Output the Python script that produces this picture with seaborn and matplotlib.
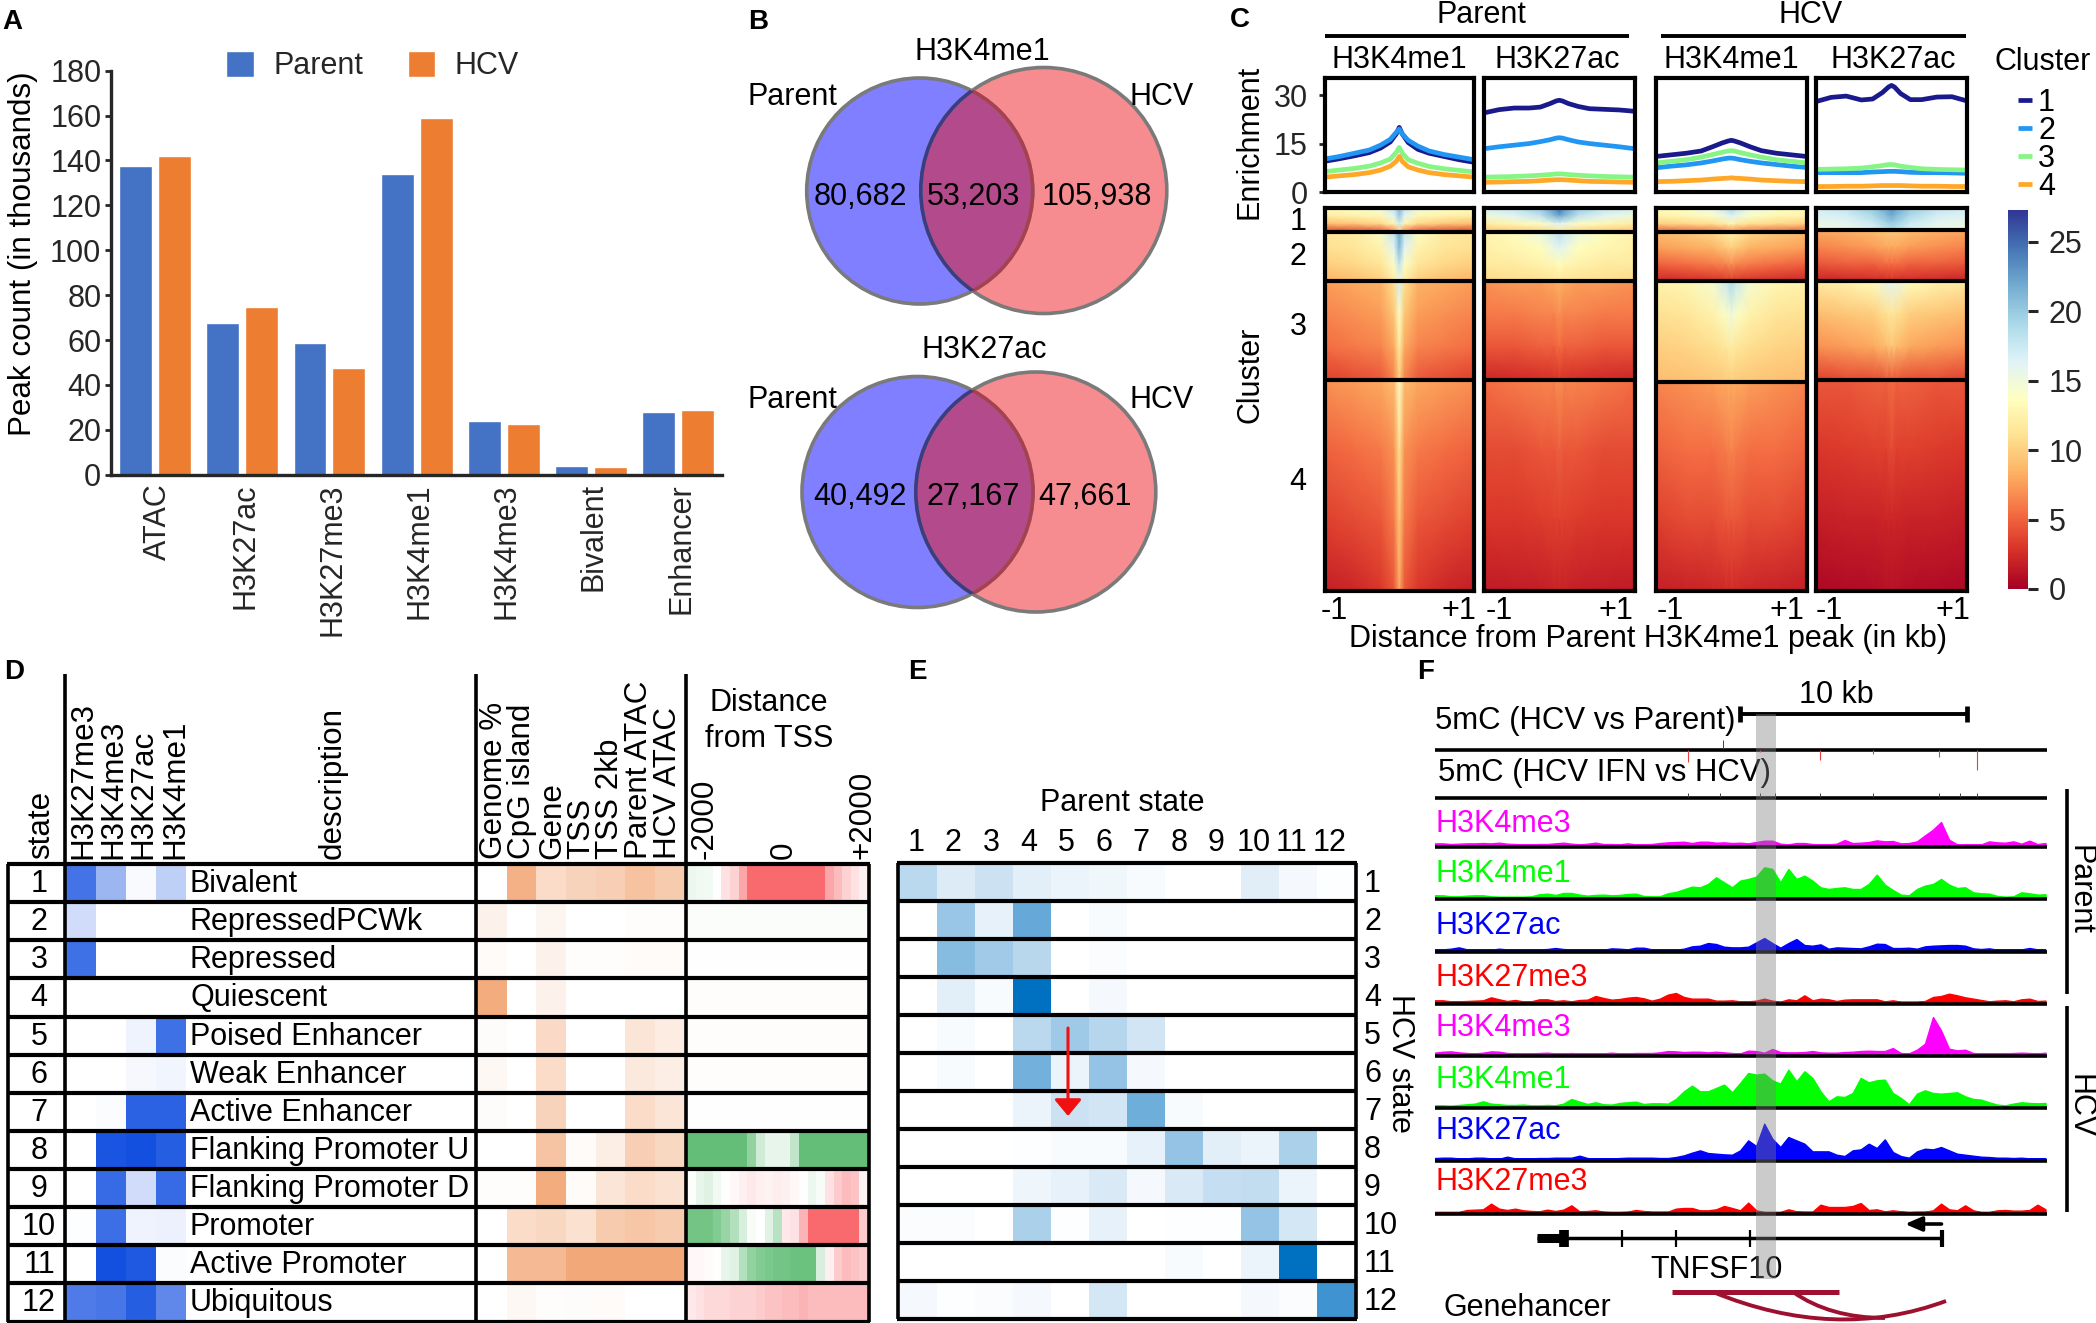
import numpy as np
import pandas as pd
import matplotlib
matplotlib.use("Agg")
import matplotlib.pyplot as plt
from matplotlib.colors import LinearSegmentedColormap, Normalize
from matplotlib.cm import ScalarMappable
from matplotlib.patches import Circle, PathPatch, Rectangle
from matplotlib.path import Path
from matplotlib.transforms import ScaledTranslation
import seaborn as sns

# ---------- Panel A ----------
a_categories = ["ATAC", "H3K27ac", "H3K27me3", "H3K4me1", "H3K4me3", "Bivalent", "Enhancer"]
a_parent = [137.5, 67.5, 58.5, 134, 24, 4, 28]
a_hcv = [142, 74.7, 47.5, 159, 22.5, 3.5, 29]

# ---------- Panel B ----------
b_top_labels = ["80,682", "53,203", "105,938"]
b_bottom_labels = ["40,492", "27,167", "47,661"]

# ---------- Panel C profiles ----------
c_x = [-1, -.8, -.6, -.4, -.25, -.12, -.04, 0, .04, .12, .25, .4, .6, .8, 1]
prof_p_k4 = [
    [9.5, 10.3, 11.2, 12.2, 13.6, 15.5, 18, 20, 18, 15.3, 13.2, 12, 11, 10, 9.2],
    [10.2, 11, 12, 13, 14.5, 16.3, 18.5, 19.5, 18, 16, 14.2, 12.7, 11.6, 10.8, 10],
    [6.3, 6.8, 7.3, 8, 9, 10.2, 12.3, 13.8, 12, 10, 8.9, 7.9, 7.2, 6.7, 6.2],
    [4.6, 5, 5.4, 6, 6.8, 8, 9.5, 11, 9.5, 7.8, 6.8, 6, 5.4, 5, 4.6]]
prof_p_ac = [
    [24.5, 25.5, 26, 26, 26.3, 27.4, 28.2, 28.4, 28.2, 27.4, 26.5, 25.8, 25.6, 25.4, 25],
    [13.4, 14, 14.5, 15, 15.6, 16.2, 16.7, 16.8, 16.7, 16.2, 15.5, 15, 14.5, 14, 13.4],
    [4.6, 4.7, 4.8, 5, 5.2, 5.4, 5.6, 5.6, 5.6, 5.4, 5.2, 5, 4.8, 4.7, 4.6],
    [3, 3.1, 3.2, 3.3, 3.5, 3.7, 3.8, 3.8, 3.8, 3.7, 3.5, 3.3, 3.2, 3.1, 3]]
prof_h_k4 = [
    [11, 11.5, 12, 12.7, 14, 15.2, 15.8, 16, 15.8, 15.2, 14, 12.8, 12, 11.5, 11],
    [7.5, 8, 8.4, 9, 9.6, 10.2, 10.5, 10.5, 10.4, 10, 9.5, 9, 8.5, 8, 7.6],
    [9, 9.5, 10, 10.8, 11.6, 12.3, 12.7, 12.8, 12.7, 12.2, 11.5, 10.8, 10, 9.5, 9],
    [3.2, 3.3, 3.5, 3.7, 4, 4.2, 4.3, 4.4, 4.3, 4.2, 4, 3.7, 3.5, 3.3, 3.2]]
prof_h_ac = [
    [28, 29.3, 29.7, 28.5, 28.8, 30.8, 32.5, 33, 32.5, 30.5, 28.6, 28.6, 29.4, 29.5, 28.2],
    [6, 6, 6, 6, 6.2, 6.3, 6.4, 6.4, 6.4, 6.3, 6.1, 6, 6, 5.9, 5.8],
    [7, 7.1, 7.2, 7.4, 7.8, 8.2, 8.5, 8.5, 8.4, 8, 7.6, 7.2, 7, 6.9, 6.8],
    [1.7, 1.7, 1.8, 1.8, 1.9, 2, 2, 2, 2, 2, 1.9, 1.8, 1.8, 1.7, 1.7]]

# ---------- Panel C heatmaps: half rows read edge -> centre, top -> bottom ----------
heat_p_k4 = [
    [[13.5, 14, 15, 18, 21], [12, 12.5, 13, 16, 20], [9, 9.5, 10.5, 13, 17], [3, 3.5, 4, 6, 10]],
    [[11.5, 12, 14, 18, 22], [11, 11.5, 12.5, 16, 21], [10, 10.5, 11.5, 14, 18], [8.5, 9, 10, 12, 15]],
    [[7.5, 8, 8.5, 11, 17], [6.5, 7, 7.5, 9.5, 14], [5.5, 6, 6.5, 8, 12], [3.5, 4, 4.5, 6.5, 10]],
    [[7, 7.5, 8, 9, 14], [5, 5.5, 6, 7, 11], [3.5, 4, 4.5, 6, 9.5], [1.8, 2.2, 3, 4.5, 8]]]
heat_p_ac = [
    [[17, 18, 20, 23, 25], [15, 16, 18, 21, 22], [12, 13, 14, 15.5, 16], [9, 9.5, 10, 11, 12]],
    [[12.5, 13.5, 15.5, 17.5, 18.5], [12.3, 12.8, 13.5, 15.5, 16], [11.8, 12, 12.5, 13, 13.5], [10.5, 10.8, 11, 11.3, 11.5]],
    [[7, 7.5, 7.5, 8, 8.5], [6, 6, 6.5, 6.5, 7], [4.5, 4.5, 5, 5, 5.5], [2.2, 2.4, 2.6, 2.8, 3]],
    [[5.5, 6, 6.5, 6.5, 7], [4, 4, 4.5, 4.5, 5], [3, 3, 3.2, 3.5, 3.5], [1.5, 1.7, 1.8, 2, 2]]]
heat_h_k4 = [
    [[13.5, 14, 15.5, 18, 19.5], [12.5, 13, 14, 15.5, 16.5], [10, 10.5, 11, 12, 13], [4.5, 5, 5.5, 6.5, 7]],
    [[9, 9.5, 10.5, 12, 12.5], [7.5, 8, 8.5, 9.5, 10], [5, 5.5, 6, 6.5, 7], [2.2, 2.5, 2.8, 3, 3.2]],
    [[12.5, 13, 14.5, 17.5, 19], [11, 11.5, 12.5, 14, 15], [10, 10.3, 10.8, 11.5, 12], [9, 9.2, 9.5, 9.8, 10]],
    [[6.5, 7, 7.5, 8, 8], [5, 5.5, 5.5, 6, 6.5], [3.5, 4, 4, 4.5, 4.5], [1.8, 2, 2.2, 2.4, 2.5]]]
heat_h_ac = [
    [[17, 18, 20, 22, 23], [16.5, 17, 19, 21, 22], [15.5, 16, 17.5, 19.5, 20], [15, 15.5, 16.5, 18, 18.5]],
    [[8, 8.5, 9, 9.5, 9.5], [6.5, 7, 7.5, 8, 8], [4.5, 5, 5, 5.5, 5.5], [2, 2.2, 2.5, 2.5, 2.8]],
    [[12, 12.5, 13.5, 15.5, 16], [9, 9.5, 10, 11, 11.5], [7, 7.5, 8, 9, 9.5], [3.5, 4, 4, 4.5, 4.5]],
    [[4.5, 4.5, 5, 5, 5.5], [3, 3.2, 3.5, 3.5, 4], [1.8, 2, 2, 2.2, 2.2], [.5, .7, .8, 1, 1]]]

# ---------- Panel D ----------
d_states = list(range(1, 13))
d_descriptions = ["Bivalent", "RepressedPCWk", "Repressed", "Quiescent", "Poised Enhancer",
                  "Weak Enhancer", "Active Enhancer", "Flanking Promoter U", "Flanking Promoter D",
                  "Promoter", "Active Promoter", "Ubiquitous"]
d_marks = ["H3K27me3", "H3K4me3", "H3K27ac", "H3K4me1"]
d_mark_values = [
    [.8, .42, .03, .27], [.2, 0, 0, 0], [.82, 0, 0, 0], [0, 0, 0, 0],
    [0, 0, .07, .82], [0, 0, .04, .06], [0, .02, .9, .9], [0, .97, 1, .92],
    [0, .85, .2, .85], [.01, .83, .07, .08], [0, 1, .95, .02], [.75, .78, .92, .68]]
d_annots = ["Genome %", "CpG island", "Gene", "TSS", "TSS 2kb", "Parent ATAC", "HCV ATAC"]
d_annot_values = [
    [0, .9, .4, .5, .55, .7, .6], [.15, 0, .12, 0, 0, .02, .02], [.05, 0, .15, .03, .02, .05, .05],
    [.95, 0, .15, 0, 0, 0, 0], [.04, 0, .42, 0, 0, .3, .22], [.08, 0, .4, 0, 0, .25, .2],
    [.04, 0, .5, 0, 0, .4, .3], [0, 0, .68, .05, .2, .55, .45], [.03, .02, .95, .05, .3, .4, .35],
    [0, .4, .45, .35, .6, .65, .6], [0, .8, .8, 1, 1, 1, 1], [0, .08, .02, .04, .05, 0, 0]]
d_tss_values = [
    [-.12, -.1, -.08, 0, .2, .3, .6, 1, 1, 1, 1, 1, 1, 1, 1, 1, .6, .45, .3, .2, .1],
    [-.03] * 21,
    [0] * 21,
    [.02] * 21,
    [.02] * 21,
    [.02] * 21,
    [-.01] * 21,
    [-1, -1, -1, -1, -1, -1, -1, -.7, -.3, -.15, -.15, -.15, -.4, -1, -1, -1, -1, -1, -1, -1, -1],
    [-.02, -.15, -.2, -.1, 0, .05, .1, .15, .1, .08, .12, .1, .05, 0, -.12, -.05, .2, .35, .45, .4, .08],
    [-.9, -.9, -.9, -.8, -.65, -.5, -.25, -.05, 0, -.2, -.45, .15, .2, .5, 1, 1, 1, 1, 1, 1, .35],
    [.05, .05, .03, 0, -.15, -.2, -.5, -.7, -.8, -.85, -.9, -.9, -.95, -.95, -.95, -.25, .1, .35, .45, .4, .35],
    [.15, .2, .25, .25, .25, .3, .3, .3, .35, .4, .4, .45, .45, .5, .45, .45, .45, .45, .45, .45, .45]]

# ---------- Panel E ----------
e_matrix = [
    [.27, .14, .2, .11, .08, .06, .03, 0, 0, .12, .04, .01],
    [0, .4, .1, .6, 0, .03, 0, 0, 0, 0, 0, 0],
    [0, .47, .37, .28, 0, .02, 0, 0, 0, 0, 0, 0],
    [0, .11, .03, 1, 0, .04, 0, 0, 0, 0, 0, 0],
    [0, .03, 0, .27, .38, .29, .18, 0, 0, 0, 0, 0],
    [0, .03, 0, .55, .08, .42, .04, 0, 0, 0, 0, 0],
    [0, 0, 0, .08, .2, .18, .57, .03, 0, 0, 0, 0],
    [0, 0, 0, .01, .03, .03, .1, .42, .11, .08, .33, 0],
    [0, 0, 0, .07, .1, .15, .04, .15, .23, .24, .08, 0],
    [.02, .02, 0, .33, .01, .1, 0, .01, .01, .42, .17, 0],
    [0, 0, 0, 0, 0, 0, 0, .03, 0, .08, 1, 0],
    [.04, .01, .02, .04, 0, .17, 0, 0, 0, .04, .02, .75]]

# ---------- Panel F signal tracks ----------
f_p_k4me3 = [4, 4, 2, 3, 4, 4, 5, 4, 6, 3, 2, 1, 1, 2, 2, 4, 6, 3, 1, 3, 6, 2, 2, 1, 4, 1, 1, 2, 5, 7,
             8, 9, 5, 9, 9, 6, 7, 5, 6, 4, 8, 12, 12, 3, 1, 5, 5, 2, 1, 1, 3, 14, 5, 6, 8, 13, 10, 11, 4, 5,
             10, 28, 45, 68, 15, 1, 1, 1, 1, 10, 7, 6, 10, 3, 12, 2, 5]
f_p_k4me1 = [6, 6, 3, 3, 5, 6, 6, 3, 2, 2, 2, 2, 3, 9, 11, 7, 13, 13, 8, 5, 7, 8, 6, 7, 10, 11, 4, 3, 3, 12,
             16, 24, 32, 30, 40, 60, 45, 30, 50, 55, 62, 90, 85, 45, 85, 55, 65, 50, 30, 25,
             28, 30, 25, 25, 40, 68, 38, 22, 8, 6, 25, 35, 40, 55, 38, 28, 30, 15, 12, 11, 4, 2, 3, 15, 12, 8, 9]
f_p_k27ac = [1, 1, 3, 7, 1, 0, 0, 0, 3, 1, 0, 0, 0, 1, 2, 5, 2, 1, 0, 0, 0, 0, 4, 3, 1, 6, 6, 1, 0, 0,
             0, 3, 10, 12, 20, 17, 9, 7, 7, 9, 22, 35, 20, 6, 20, 32, 14, 12, 16, 3,
             7, 6, 5, 4, 10, 18, 17, 5, 5, 6, 3, 10, 12, 13, 14, 14, 12, 4, 2, 4, 0, 0, 0, 1, 5, 1, 0]
f_p_k27me3 = [5, 5, 2, 2, 3, 4, 5, 14, 8, 3, 6, 2, 2, 8, 8, 3, 5, 2, 6, 7, 18, 12, 7, 9, 13, 15, 11, 4, 10, 22,
              27, 15, 10, 10, 10, 4, 4, 5, 2, 2, 4, 10, 4, 1, 8, 5, 20, 5, 10, 8,
              3, 7, 8, 8, 8, 8, 2, 5, 1, 1, 1, 3, 15, 18, 25, 20, 14, 10, 6, 2, 4, 5, 2, 8, 10, 3, 4]
f_h_k4me3 = [3, 6, 7, 4, 2, 1, 3, 7, 6, 2, 1, 1, 1, 2, 3, 1, 1, 2, 1, 1, 1, 1, 3, 1, 1, 2, 2, 2, 4, 8,
             7, 5, 6, 6, 4, 6, 4, 2, 1, 9, 8, 3, 14, 5, 4, 4, 5, 8, 4, 3, 3, 5, 6, 8, 9, 8, 8, 17, 2, 1,
             12, 30, 110, 70, 15, 10, 12, 2, 1, 1, 1, 1, 2, 3, 2, 1, 3]
f_h_k4me1 = [3, 3, 2, 4, 6, 8, 15, 8, 6, 4, 4, 5, 3, 3, 4, 3, 8, 22, 14, 7, 12, 6, 5, 10, 12, 14, 7, 9, 9, 8,
             22, 45, 62, 45, 45, 55, 65, 42, 70, 100, 95, 98, 78, 68, 110, 75, 105, 85, 45, 15,
             30, 28, 40, 85, 72, 78, 80, 40, 25, 6, 38, 48, 40, 38, 40, 42, 30, 22, 20, 12, 5, 3, 8, 12, 10, 9, 10]
f_h_k27ac = [2, 3, 3, 1, 1, 3, 3, 1, 0, 6, 1, 0, 1, 2, 2, 3, 3, 3, 9, 2, 0, 0, 0, 2, 3, 3, 3, 3, 2, 2,
             5, 10, 18, 25, 17, 15, 13, 12, 25, 55, 38, 105, 60, 35, 65, 55, 45, 22, 22, 22,
             12, 8, 25, 28, 45, 32, 58, 20, 8, 3, 22, 30, 28, 35, 25, 15, 12, 9, 6, 5, 3, 3, 2, 3, 1, 0, 0]
f_h_k27me3 = [0, 0, 0, 0, 6, 7, 8, 25, 10, 6, 10, 5, 3, 2, 7, 3, 7, 20, 2, 3, 5, 1, 0, 0, 1, 6, 3, 1, 1, 1,
              10, 12, 12, 5, 5, 8, 18, 12, 5, 28, 5, 0, 0, 0, 8, 2, 1, 1, 22, 15,
              15, 15, 18, 27, 6, 8, 2, 5, 2, 0, 1, 1, 5, 25, 8, 5, 20, 5, 0, 0, 5, 6, 4, 4, 6, 22, 8]
f_track_names = ["H3K4me3", "H3K4me1", "H3K27ac", "H3K27me3"]

# ---------- Style ----------
W, H = 2096, 1323
FS = 22
FRAME = 3.0
sns.set_theme(style="white")
plt.rcParams["font.family"] = ["Liberation Sans", "DejaVu Sans"]
fig = plt.figure(figsize=(W / 100, H / 100), dpi=100, facecolor="white")


def axpx(x0, y0, x1, y1, **kw):
    return fig.add_axes([x0 / W, 1 - y1 / H, (x1 - x0) / W, (y1 - y0) / H], **kw)


ov = axpx(0, 0, W, H, zorder=20)
ov.set_xlim(0, W)
ov.set_ylim(H, 0)
ov.axis("off")
ov.patch.set_alpha(0)


def txt(x, y, s, ha="center", va="center", size=FS, **kw):
    rot = kw.get("rotation", 0)
    if rot == 0 and size == FS:
        y = y + 3
    elif rot == 90:
        x = x + 2
    return ov.text(x, y, s, ha=ha, va=va, fontsize=size, color=kw.pop("color", "black"), **kw)


def line(xs, ys, lw=2.3, color="black", **kw):
    ov.plot(xs, ys, color=color, lw=lw, solid_capstyle=kw.pop("cap", "butt"), **kw)


for lab, x, y in [("A", 2, 22), ("B", 748, 22), ("C", 1230, 20), ("D", 4, 672), ("E", 908, 672), ("F", 1417, 672)]:
    txt(x, y, lab, ha="left", size=20, fontweight="bold")

# ---------- A ----------
axA = axpx(111, 70.7, 722, 474.7)
dfA = pd.DataFrame({"category": a_categories * 2, "count": a_parent + a_hcv,
                    "group": ["Parent"] * 7 + ["HCV"] * 7})
sns.barplot(data=dfA, x="category", y="count", hue="group", ax=axA, palette=["#4472C4", "#ED7D31"],
            width=.894, gap=.154, saturation=1)
axA.set_xlim(-.505, 6.5)
axA.set_ylim(0, 180)
axA.set_yticks(range(0, 181, 20))
axA.set_xlabel("")
axA.set_ylabel("")
axA.tick_params(axis="y", labelsize=FS, length=4, width=2, pad=3, left=True)
axA.tick_params(axis="x", labelsize=FS, length=0, pad=6, labelrotation=90)
shift = ScaledTranslation(2 / 72, 0, fig.dpi_scale_trans)
for lb in axA.get_xticklabels():
    lb.set_transform(lb.get_transform() + shift)
sns.despine(ax=axA)
for s in ("left", "bottom"):
    axA.spines[s].set_linewidth(2.4)
axA.legend(ncol=2, frameon=False, fontsize=FS, loc="center left", bbox_to_anchor=(226 / W, 1 - 66 / H),
           bbox_transform=fig.transFigure, borderpad=0, borderaxespad=0, handlelength=.9, handleheight=.92,
           handletextpad=.65, columnspacing=1.45)
txt(21, 254, "Peak count (in thousands)", rotation=90, size=22.6)


# ---------- B ----------
def venn(cl, rl, cr, rr, labels, title, ty, ly, cy_text, xs_text):
    blue, red, mix = "#7F7FFF", "#F78C90", "#B34A8C"
    ov.add_patch(Circle(cl, rl, fc=blue, ec="none", zorder=1))
    ov.add_patch(Circle(cr, rr, fc=red, ec="none", zorder=1))
    clipr = Circle(cr, rr, transform=ov.transData)
    clipl = Circle(cl, rl, transform=ov.transData)
    p = ov.add_patch(Circle(cl, rl, fc=mix, ec="none", zorder=2))
    p.set_clip_path(clipr)
    ov.add_patch(Circle(cl, rl, fc="none", ec="#7A7A7A", lw=2.6, zorder=3))
    ov.add_patch(Circle(cr, rr, fc="none", ec="#7A7A7A", lw=2.6, zorder=3))
    p = ov.add_patch(Circle(cl, rl, fc="none", ec="#A8404F", lw=2.6, zorder=4))
    p.set_clip_path(clipr)
    p = ov.add_patch(Circle(cr, rr, fc="none", ec="#3C3C80", lw=2.6, zorder=4))
    p.set_clip_path(clipl)
    for x, s in zip(xs_text, labels):
        txt(x, cy_text, s, zorder=5)
    txt(title[0], ty, title[1])
    txt(747, ly, "Parent", ha="left", zorder=5)
    txt(1130, ly, "HCV", ha="left", zorder=5)


venn((919.7, 191), 113, (1043.8, 190.5), 123, b_top_labels, (982.7, "H3K4me1"), 49, 94, 194, [860.7, 974, 1097])
venn((917.5, 492), 115.5, (1035.8, 492), 120, b_bottom_labels, (984, "H3K27ac"), 347, 397, 494, [860, 973, 1085])

# ---------- C ----------
c_panels = [(1324.5, 1474), (1484, 1634.5), (1656, 1806.6), (1816, 1967)]
c_profs = [prof_p_k4, prof_p_ac, prof_h_k4, prof_h_ac]
c_heats = [heat_p_k4, heat_p_ac, heat_h_k4, heat_h_ac]
c_div = [(232, 281, 380), (232, 281, 380), (232, 281, 382), (230, 281, 380)]
c_colors = ["#1A1A8C", "#2196F3", "#86F586", "#FFA726"]
half_x = [-1, -.6, -.25, -.07, 0]
cols_x = half_x + [.07, .25, .6, 1]
row_frac = [0, .33, .66, 1]
HT, HB = 208, 591
for (x0, x1), prof, heat, div in zip(c_panels, c_profs, c_heats, c_div):
    a = axpx(x0, 78, x1, 192)
    for vals, col in zip(prof, c_colors):
        sns.lineplot(x=c_x, y=vals, ax=a, color=col, lw=3.4, legend=False)
    a.set_xlim(-1, 1)
    a.set_ylim(0, 35.3)
    a.set_xticks([])
    a.set_yticks([0, 15, 30] if x0 < 1330 else [])
    a.tick_params(axis="y", labelsize=FS, length=4, width=2, pad=8, left=True)
    a.set_xlabel("")
    a.set_ylabel("")
    for s in a.spines.values():
        s.set_linewidth(FRAME)
        s.set_color("black")
    h = axpx(x0, HT, x1, HB)
    bounds = [HT, *div, HB]
    for i, rows in enumerate(heat):
        full = np.array([list(r) + list(r[-2::-1]) for r in rows], dtype=float)
        ys = [bounds[i] + f * (bounds[i + 1] - bounds[i]) for f in row_frac]
        h.pcolormesh(cols_x, ys, full, shading="gouraud", cmap="RdYlBu", vmin=0, vmax=27.3, rasterized=True)
    h.set_xlim(-1, 1)
    h.set_ylim(HB, HT)
    h.set_xticks([])
    h.set_yticks([])
    for s in h.spines.values():
        s.set_linewidth(FRAME)
        s.set_color("black")
        s.set_visible(True)
    for d in div:
        h.axhline(d, color="black", lw=FRAME)

line([1324.5, 1629], [35.5, 35.5], lw=2.8)
line([1661, 1966], [35.5, 35.5], lw=2.8)
txt(1481, 12, "Parent")
txt(1811, 12, "HCV")
for x, s in [(1399, "H3K4me1"), (1557, "H3K27ac"), (1731, "H3K4me1"), (1893, "H3K27ac")]:
    txt(x, 57, s)
txt(1994, 59, "Cluster", ha="left")
for y, s, col in zip([100, 128, 156, 184], ["1", "2", "3", "4"], c_colors):
    line([2018, 2032], [y, y], lw=3.4, color=col)
    txt(2038, y, s, ha="left")
txt(1248, 142, "Enrichment", rotation=90)
txt(1248, 375, "Cluster", rotation=90)
for y, s in zip([219, 254, 324, 479], ["1", "2", "3", "4"]):
    txt(1298, y, s)
for x, s in [(1334.5, "-1"), (1459, "+1"), (1499, "-1"), (1615.5, "+1"), (1670, "-1"), (1787, "+1"),
             (1829, "-1"), (1953, "+1")]:
    txt(x, 608, s)
txt(1648, 636, "Distance from Parent H3K4me1 peak (in kb)")

cb = axpx(2008, 210, 2028, 589)
cbar = fig.colorbar(ScalarMappable(Normalize(0, 27.3), "RdYlBu"), cax=cb, ticks=[0, 5, 10, 15, 20, 25])
cbar.outline.set_visible(False)
cb.tick_params(labelsize=FS, length=7, width=2.2, pad=8, right=True)

# ---------- D ----------
DT, DB = 864, 1321.5
cm_blue = LinearSegmentedColormap.from_list("b", ["#FFFFFF", "#1450E0"])
cm_org = LinearSegmentedColormap.from_list("o", ["#FFFFFF", "#F2A878"])
cm_gr = LinearSegmentedColormap.from_list("g", ["#64BE78", "#FFFFFF", "#F86A6E"])
for (x0, x1), vals, cm, vmin in [((66, 186), d_mark_values, cm_blue, 0),
                                 ((477, 684.5), d_annot_values, cm_org, 0),
                                 ((687, 868), d_tss_values, cm_gr, -1)]:
    a = axpx(x0, DT, x1, DB)
    sns.heatmap(np.array(vals), ax=a, cmap=cm, vmin=vmin, vmax=1, cbar=False, xticklabels=False, yticklabels=False)

row_h = (DB - DT) / 12
for i in range(13):
    y = DT + i * row_h
    line([6.5, 870], [y, y], lw=FRAME)
for x in (8, 869):
    line([x, x], [DT, DB], lw=2.6)
for x in (64.5, 476, 686):
    line([x, x], [674, DB], lw=2.6)
for i, (st, ds) in enumerate(zip(d_states, d_descriptions)):
    y = DT + (i + .5) * row_h - 2
    txt(39, y, str(st))
    txt(190, y, ds, ha="left")
BASE = 859
HS = 22.6
txt(39, BASE, "state", rotation=90, va="bottom", size=HS)
for x, s in zip([81, 111, 141, 173], d_marks):
    txt(x, BASE, s, rotation=90, va="bottom", size=HS)
txt(331, BASE, "description", rotation=90, va="bottom", size=HS)
for x, s in zip([492, 520, 550, 579, 608, 637, 666], d_annots):
    txt(x, BASE, s, rotation=90, va="bottom", size=HS)
for x, s in zip([703, 781.5, 861], ["-2000", "0", "+2000"]):
    txt(x, BASE, s, rotation=90, va="bottom", size=HS)
txt(769, 700, "Distance")
txt(769, 736, "from TSS")

# ---------- E ----------
ET, EB, EL, ER = 863, 1319, 899, 1355
axE = axpx(EL, ET, ER, EB)
cm_e = LinearSegmentedColormap.from_list("e", ["#FFFFFF", "#0070C0"])
sns.heatmap(np.array(e_matrix), ax=axE, cmap=cm_e, vmin=0, vmax=1, cbar=False, xticklabels=False, yticklabels=False)
eh = (EB - ET) / 12
for i in range(13):
    y = ET + i * eh
    line([EL - 2, ER + 2], [y, y], lw=FRAME)
for x in (EL - 1, ER + 1):
    line([x, x], [ET, EB], lw=2.6)
for i in range(12):
    txt(915.7 + i * 37.6, 840, str(i + 1))
    txt(1364, ET + (i + .5) * eh - 1, str(i + 1), ha="left")
txt(1122, 800, "Parent state")
txt(1400, 1063, "HCV state", rotation=270)
ov.annotate("", xy=(1068, 1116), xytext=(1068, 1028), zorder=10,
            arrowprops=dict(arrowstyle="-|>,head_width=.83,head_length=1.0", mutation_scale=10, color="#F01010",
                            lw=2.2, shrinkA=0, shrinkB=0))

# ---------- F ----------
f_base = [846.7, 899.3, 951.7, 1004, 1055.7, 1108.3, 1160.7, 1214]
f_vals = [f_p_k4me3, f_p_k4me1, f_p_k27ac, f_p_k27me3, f_h_k4me3, f_h_k4me1, f_h_k27ac, f_h_k27me3]
f_cols = ["#FF00FF", "#00FF00", "#0000FF", "#FF0000"] * 2
f_lab_y = [820.7, 871.5, 923, 975, 1025, 1076.5, 1128, 1179]
f_names = f_track_names * 2
for b, vals, col, ly, nm in zip(f_base, f_vals, f_cols, f_lab_y, f_names):
    a = axpx(1434.8, b - 54, 2045.5, b)
    a.fill_between(np.arange(len(vals)), 0, vals, color=col, lw=1.0)
    a.set_xlim(0, len(vals) - 1)
    a.set_ylim(-6, 156)
    a.axis("off")
    line([1435, 2047], [b, b], lw=2.6)
    txt(1436, ly, nm, ha="left", color=col)
line([1435, 2047], [749.6, 749.6], lw=2.6)
line([1435, 2047], [797.8, 797.8], lw=2.6)
for x, l in zip([1688, 1760, 1820, 1873, 1939, 1977], [12, 2, 10, 4, 7, 20]):
    line([x, x], [750, 750 + l], lw=.8, color="#E84040")
for x in [1688, 1720, 1760, 1775, 1820, 1873, 1939, 1960, 1977]:
    line([x, x], [793, 797], lw=.7, color="#404040")
line([1723, 1723], [740, 749], lw=.7, color="#404040")
ov.add_patch(Rectangle((1756, 714), 19.6, 565, fc="#7F7F7F", alpha=.4, ec="none", zorder=9))
txt(1435, 721, "5mC (HCV vs Parent)", ha="left", size=22.4)
txt(1438, 773, "5mC (HCV IFN vs HCV)", ha="left", size=22.4)
line([1740, 1967], [714, 714], lw=2.8)
line([1740, 1740], [706, 722], lw=3.4)
line([1967, 1967], [706, 722], lw=3.4)
txt(1836, 692, "10 kb")
line([2066.5, 2066.5], [789, 994], lw=2.6)
line([2066.5, 2066.5], [1006, 1212], lw=2.6)
txt(2079, 890, "Parent", rotation=270)
txt(2079, 1106, "HCV", rotation=270)
line([1537, 1942], [1238, 1238], lw=2.5)
line([1537, 1560], [1238, 1238], lw=6.5)
line([1564, 1564], [1230, 1247], lw=7)
for x in (1622, 1675.6, 1750):
    line([x, x], [1230, 1247], lw=1.6)
line([1941.5, 1941.5], [1230, 1247], lw=3)
ov.annotate("", xy=(1905, 1224), xytext=(1941.5, 1224),
            arrowprops=dict(arrowstyle="-|>,head_width=.43,head_length=1.0", mutation_scale=10, color="black",
                            lw=2.6, shrinkA=0, shrinkB=0))
txt(1717, 1267, "TNFSF10")
txt(1527, 1305, "Genehancer")
line([1672, 1839], [1292, 1292], lw=3.6, color="#9E1030")
for pts in ([(1713, 1292), (1835, 1342), (1946, 1301)], [(1793, 1292), (1830, 1318), (1885, 1318)]):
    ov.add_patch(PathPatch(Path(pts, [Path.MOVETO, Path.CURVE3, Path.CURVE3]), fc="none", ec="#9E1030", lw=2.8))

fig.savefig("out.png", dpi=100, facecolor="white")
